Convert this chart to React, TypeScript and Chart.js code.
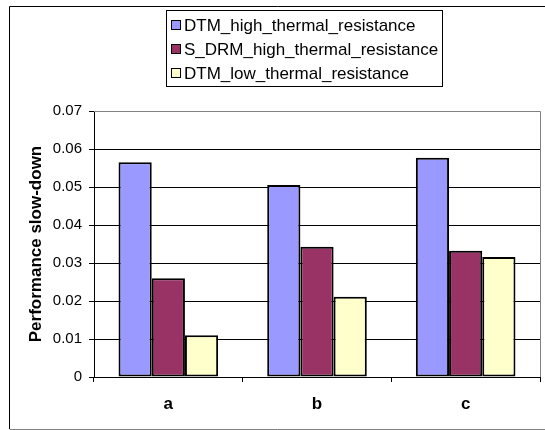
import { useEffect, useRef } from "react";
import { Chart, registerables } from "chart.js";

Chart.register(...registerables);

const categories = ["a", "b", "c"];
const seriesNames = [
  "DTM_high_thermal_resistance",
  "S_DRM_high_thermal_resistance",
  "DTM_low_thermal_resistance",
];
const dtmHigh = [0.0565, 0.0505, 0.0577];
const sdrmHigh = [0.026, 0.0343, 0.0332];
const dtmLow = [0.011, 0.0211, 0.0316];
const seriesColors = ["#9999FF", "#993366", "#FFFFCC"];
const yMin = 0;
const yMax = 0.07;
const yStep = 0.01;
const yTitle = "Performance slow-down";

const FONT = "'Liberation Sans', Arial, sans-serif";

const framePlugin = {
  id: "framePlugin",
  beforeDraw(chart: any) {
    const { ctx, width, height } = chart;
    ctx.save();
    ctx.fillStyle = "#ffffff";
    ctx.fillRect(0, 0, width, height);
    ctx.lineWidth = 1;
    ctx.strokeStyle = "#000000";
    ctx.beginPath();
    ctx.moveTo(9.5, 429);
    ctx.lineTo(9.5, 6.5);
    ctx.lineTo(width, 6.5);
    ctx.stroke();
    ctx.strokeStyle = "#808080";
    ctx.beginPath();
    ctx.moveTo(9.5, 429.5);
    ctx.lineTo(width, 429.5);
    ctx.stroke();
    ctx.restore();
  },
  afterDraw(chart: any) {
    const { ctx, chartArea } = chart;
    ctx.save();
    ctx.lineWidth = 1;
    ctx.strokeStyle = "#808080";
    ctx.beginPath();
    ctx.moveTo(chartArea.left, Math.round(chartArea.top) + 0.5);
    ctx.lineTo(Math.round(chartArea.right) + 0.5, Math.round(chartArea.top) + 0.5);
    ctx.lineTo(Math.round(chartArea.right) + 0.5, chartArea.bottom);
    ctx.stroke();

    // legend
    const bx = 166.5, by = 10.5, bw = 276, bh = 76;
    ctx.fillStyle = "#ffffff";
    ctx.fillRect(bx, by, bw, bh);
    ctx.strokeStyle = "#000000";
    ctx.strokeRect(bx, by, bw, bh);
    ctx.font = `17px ${FONT}`;
    ctx.textBaseline = "middle";
    ctx.textAlign = "left";
    chart.data.datasets.forEach((ds: any, i: number) => {
      const cy = 25 + i * 24;
      ctx.fillStyle = ds.backgroundColor;
      ctx.fillRect(171.5, cy - 4.5, 9, 9);
      ctx.strokeStyle = "#000000";
      ctx.strokeRect(171.5, cy - 4.5, 9, 9);
      ctx.fillStyle = "#000000";
      ctx.fillText(ds.label, 184, cy + 1);
    });
    ctx.restore();
  },
};

export default function App() {
  const ref = useRef<HTMLCanvasElement | null>(null);
  useEffect(() => {
    document.body.style.margin = "0";
    const canvas = ref.current;
    if (!canvas) return;
    const chart = new Chart(canvas, {
      type: "bar",
      data: {
        labels: categories,
        datasets: [dtmHigh, sdrmHigh, dtmLow].map((d, i) => ({
          label: seriesNames[i],
          data: d,
          backgroundColor: seriesColors[i],
          borderColor: "#000000",
          borderWidth: 2,
          borderSkipped: false,
          categoryPercentage: 0.67,
          barPercentage: 1.0,
        })),
      },
      options: {
        responsive: false,
        animation: false,
        devicePixelRatio: 1,
        layout: { padding: { left: 0, top: 111, right: 5, bottom: 0 } },
        plugins: {
          legend: { display: false },
          tooltip: { enabled: false },
        },
        scales: {
          x: {
            afterFit: (scale: any) => {
              scale.height = 53;
            },
            grid: {
              offset: true,
              drawOnChartArea: false,
              drawTicks: true,
              tickLength: 5,
              color: "#000000",
            },
            border: { display: true, color: "#000000", width: 1 },
            ticks: {
              color: "#000000",
              font: { family: FONT, size: 17, weight: "bold" },
              padding: 12,
            },
          },
          y: {
            min: yMin,
            max: yMax,
            afterFit: (scale: any) => {
              scale.width = 94;
            },
            grid: {
              color: (c: any) =>
                c.tick && Math.abs(c.tick.value - yMax) < 1e-9 ? "rgba(0,0,0,0)" : "#000000",
              tickColor: "#000000",
              drawTicks: true,
              tickLength: 5,
            },
            border: { display: true, color: "#000000", width: 1 },
            ticks: {
              stepSize: yStep,
              color: "#000000",
              font: { family: FONT, size: 15 },
              padding: 7,
              callback: (v: any) => (Number(v) === 0 ? "0" : Number(v).toFixed(2)),
            },
            title: {
              display: true,
              text: yTitle,
              color: "#000000",
              font: { family: FONT, size: 17, weight: "bold" },
              padding: { top: 26, bottom: 0 },
            },
          },
        },
      },
      plugins: [framePlugin],
    });
    return () => chart.destroy();
  }, []);
  return (
    <canvas
      ref={ref}
      width={545}
      height={430}
      style={{ display: "block", width: 545, height: 430 }}
    />
  );
}
